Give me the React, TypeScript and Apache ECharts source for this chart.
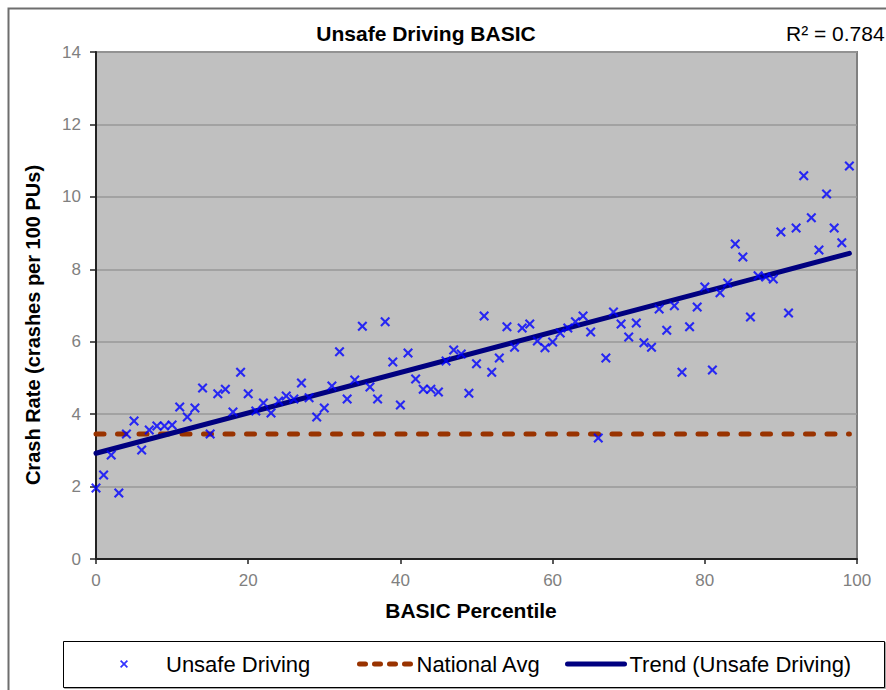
import React, { useEffect, useRef } from "react";
import * as echarts from "echarts";

const percentiles = [
  0, 1, 2, 3, 4, 5, 6, 7, 8, 9, 10, 11, 12, 13, 14, 15, 16, 17, 18, 19,
  20, 21, 22, 23, 24, 25, 26, 27, 28, 29, 30, 31, 32, 33, 34, 35, 36, 37, 38, 39,
  40, 41, 42, 43, 44, 45, 46, 47, 48, 49, 50, 51, 52, 53, 54, 55, 56, 57, 58, 59,
  60, 61, 62, 63, 64, 65, 66, 67, 68, 69, 70, 71, 72, 73, 74, 75, 76, 77, 78, 79,
  80, 81, 82, 83, 84, 85, 86, 87, 88, 89, 90, 91, 92, 93, 94, 95, 96, 97, 98, 99,
];
const crashRates = [
  1.96, 2.32, 2.87, 1.82, 3.45, 3.81, 3.01, 3.56, 3.67, 3.67,
  3.70, 4.20, 3.92, 4.17, 4.72, 3.45, 4.56, 4.69, 4.06, 5.16,
  4.56, 4.09, 4.31, 4.03, 4.36, 4.50, 4.42, 4.86, 4.45, 3.92,
  4.17, 4.78, 5.72, 4.42, 4.94, 6.43, 4.75, 4.42, 6.55, 5.44,
  4.25, 5.69, 4.97, 4.69, 4.69, 4.61, 5.47, 5.77, 5.66, 4.58,
  5.39, 6.71, 5.16, 5.55, 6.41, 5.85, 6.38, 6.49, 6.02, 5.83,
  5.99, 6.24, 6.38, 6.55, 6.71, 6.27, 3.34, 5.55, 6.82, 6.49,
  6.13, 6.52, 5.97, 5.85, 6.90, 6.32, 6.99, 5.16, 6.41, 6.96,
  7.51, 5.22, 7.35, 7.62, 8.70, 8.34, 6.68, 7.82, 7.79, 7.73,
  9.03, 6.79, 9.14, 10.58, 9.42, 8.53, 10.08, 9.14, 8.73, 10.85,
];
const trendX = [0, 99];
const trendY = [2.92, 8.44];
const avgX = [0, 99];
const avgY = [3.45, 3.45];
const seriesNames = ["Unsafe Driving", "National Avg", "Trend (Unsafe Driving)"];
const chartTitle = "Unsafe Driving BASIC";
const rSquaredLabel = "R² = 0.784";
const xAxisTitle = "BASIC Percentile";
const yAxisTitle = "Crash Rate (crashes per 100 PUs)";

const FONT = "'Liberation Sans', Arial, sans-serif";
const CROSS =
  "path://M0,1.5L1.5,0L5,3.5L8.5,0L10,1.5L6.5,5L10,8.5L8.5,10L5,6.5L1.5,10L0,8.5L3.5,5Z";

export default function App() {
  const ref = useRef<HTMLDivElement>(null);
  useEffect(() => {
    if (!ref.current) return;
    const chart = echarts.init(ref.current, undefined, { renderer: "svg" });
    const scatterData = percentiles.map((p, i) => [p, crashRates[i]]);
    const trendData = trendX.map((x, i) => [x, trendY[i]]);
    const avgData = avgX.map((x, i) => [x, avgY[i]]);
    const legendText = { fontFamily: FONT, fontSize: 22, color: "#000", lineHeight: 24 };
    chart.setOption({
      animation: false,
      backgroundColor: "#fff",
      textStyle: { fontFamily: FONT },
      grid: {
        left: 96,
        top: 52,
        width: 761,
        height: 507,
        show: true,
        backgroundColor: "#c0c0c0",
        borderColor: "#808080",
        borderWidth: 2,
      },
      xAxis: {
        type: "value",
        min: 0,
        max: 100,
        interval: 20,
        axisLine: { show: true, onZero: false, lineStyle: { color: "#222", width: 2 } },
        axisTick: { show: true, length: 5, lineStyle: { color: "#222", width: 1.5 } },
        axisLabel: { color: "#808080", fontSize: 17, fontFamily: FONT, margin: 13 },
        splitLine: { show: false },
      },
      yAxis: {
        type: "value",
        min: 0,
        max: 14,
        interval: 2,
        axisLine: { show: true, onZero: false, lineStyle: { color: "#222", width: 2 } },
        axisTick: { show: true, length: 6, lineStyle: { color: "#222", width: 1.5 } },
        axisLabel: { color: "#808080", fontSize: 17, fontFamily: FONT, margin: 15 },
        splitLine: { show: true, lineStyle: { color: "#999999", width: 1.5 } },
      },
      legend: [
        {
          data: [{ name: seriesNames[0], icon: CROSS }],
          left: 120,
          top: 652,
          padding: 0,
          itemWidth: 8,
          itemHeight: 8,
          textStyle: { ...legendText, padding: [0, 0, 0, 33] },
          z: 10,
        },
        {
          data: [seriesNames[1]],
          left: 357,
          top: 652,
          padding: 0,
          itemWidth: 52,
          itemHeight: 14,
          itemStyle: { opacity: 0 },
          lineStyle: { width: 5, type: [6, 9], cap: "round", color: "#993300" },
          textStyle: legendText,
          z: 10,
        },
        {
          data: [seriesNames[2]],
          left: 565,
          top: 652,
          padding: 0,
          itemWidth: 57,
          itemHeight: 14,
          itemStyle: { opacity: 0 },
          lineStyle: { width: 5, color: "#000080" },
          textStyle: legendText,
          z: 10,
        },
      ],
      graphic: [
        {
          type: "rect",
          z: -10,
          silent: true,
          shape: { x: 8.5, y: 8.5, width: 1000, height: 1000 },
          style: { fill: "none", stroke: "#6e6e6e", lineWidth: 2 },
        },
        {
          type: "rect",
          z: 0,
          silent: true,
          shape: { x: 63.5, y: 641.5, width: 821, height: 46 },
          style: { fill: "#fff", stroke: "#000", lineWidth: 1, shadowColor: "rgba(0,0,0,0.35)", shadowOffsetX: 1, shadowOffsetY: 1, shadowBlur: 1 },
        },
        {
          type: "text",
          x: 426,
          y: 33,
          style: {
            text: chartTitle,
            fontFamily: FONT,
            fontSize: 21,
            fontWeight: "bold",
            fill: "#000",
            align: "center",
            verticalAlign: "middle",
          },
        },
        {
          type: "text",
          x: 786,
          y: 33,
          style: {
            text: rSquaredLabel,
            fontFamily: FONT,
            fontSize: 21,
            fill: "#000",
            align: "left",
            verticalAlign: "middle",
          },
        },
        {
          type: "text",
          x: 471,
          y: 610,
          style: {
            text: xAxisTitle,
            fontFamily: FONT,
            fontSize: 21,
            fontWeight: "bold",
            fill: "#000",
            align: "center",
            verticalAlign: "middle",
          },
        },
        {
          type: "text",
          x: 33,
          y: 325,
          rotation: Math.PI / 2,
          style: {
            text: yAxisTitle,
            fontFamily: FONT,
            fontSize: 20,
            fontWeight: "bold",
            fill: "#000",
            align: "center",
            verticalAlign: "middle",
          },
        },
      ],
      series: [
        {
          name: seriesNames[1],
          type: "line",
          data: avgData,
          showSymbol: false,
          symbol: "none",
          color: "#993300",
          lineStyle: { color: "#993300", width: 5, type: [8, 13.5], cap: "round" },
          z: 2,
        },
        {
          name: seriesNames[2],
          type: "line",
          data: trendData,
          showSymbol: false,
          symbol: "none",
          color: "#000080",
          lineStyle: { color: "#000080", width: 5, cap: "round" },
          z: 3,
        },
        {
          name: seriesNames[0],
          type: "scatter",
          data: scatterData,
          symbol: CROSS,
          symbolSize: 10,
          itemStyle: { color: "#0000ff" },
          z: 4,
        },
      ],
    });
    return () => chart.dispose();
  }, []);
  return (
    <div
      ref={ref}
      style={{ position: "absolute", left: 0, top: 0, width: 886, height: 690 }}
    />
  );
}
